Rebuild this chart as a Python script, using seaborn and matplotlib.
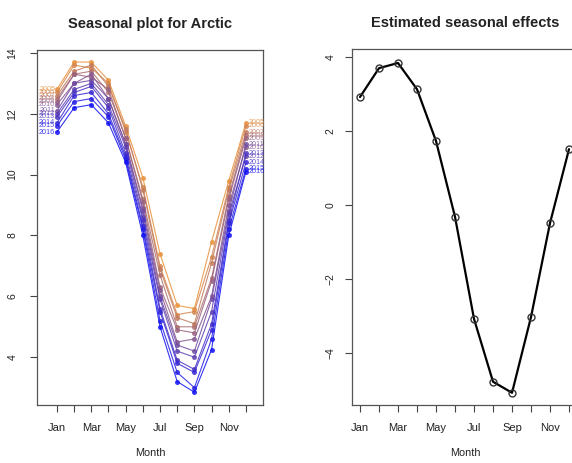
import numpy as np
import pandas as pd
import seaborn as sns
import matplotlib
matplotlib.use("Agg")
import matplotlib.pyplot as plt

months = ["Jan", "Feb", "Mar", "Apr", "May", "Jun",
          "Jul", "Aug", "Sep", "Oct", "Nov", "Dec"]
tick_labels = ["Jan", "", "Mar", "", "May", "", "Jul", "", "Sep", "", "Nov", ""]
years = [2005, 2006, 2007, 2008, 2009, 2010, 2011, 2012, 2013, 2014, 2015, 2016]

# one row per year (oldest first)
extent = [
    [12.8, 13.7, 13.7, 13.1, 11.6, 9.9, 7.4, 5.7, 5.6, 7.8, 9.8, 11.7],
    [12.7, 13.6, 13.5, 13.0, 11.4, 9.6, 7.0, 5.4, 5.5, 7.3, 9.6, 11.6],
    [12.6, 13.4, 13.6, 12.9, 11.5, 9.5, 6.9, 5.3, 5.1, 7.1, 9.5, 11.4],
    [12.5, 13.3, 13.4, 12.7, 11.2, 9.2, 6.7, 5.0, 5.0, 6.6, 9.3, 11.3],
    [12.4, 13.3, 13.2, 12.8, 11.2, 9.1, 6.3, 4.9, 4.8, 6.5, 9.2, 11.2],
    [12.3, 13.0, 13.3, 12.5, 11.0, 8.9, 6.2, 4.5, 4.6, 6.0, 9.0, 10.9],
    [12.1, 13.0, 13.1, 12.5, 11.0, 8.8, 6.0, 4.4, 4.2, 5.9, 8.8, 11.0],
    [12.0, 12.8, 13.0, 12.3, 10.9, 8.6, 5.9, 4.2, 4.0, 5.5, 8.7, 10.6],
    [11.9, 12.7, 12.9, 12.2, 10.7, 8.5, 5.6, 3.9, 3.6, 5.1, 8.5, 10.7],
    [11.7, 12.6, 12.7, 12.0, 10.6, 8.3, 5.5, 3.8, 3.5, 4.9, 8.4, 10.4],
    [11.6, 12.4, 12.5, 11.9, 10.5, 8.2, 5.2, 3.5, 3.0, 4.6, 8.2, 10.2],
    [11.4, 12.2, 12.3, 11.7, 10.4, 8.0, 5.0, 3.2, 2.85, 4.25, 8.0, 10.1],
]

# estimated seasonal effects
effects = [2.92, 3.70, 3.84, 3.13, 1.73, -0.32, -3.08, -4.78, -5.08, -3.03, -0.49, 1.51]

sns.set_style("ticks")
plt.rcParams["font.family"] = ["Liberation Sans", "DejaVu Sans"]

month_num = np.arange(1, 13)
long_df = pd.DataFrame(
    [(y, m, v) for y, row in zip(years, extent) for m, v in zip(month_num, row)],
    columns=["Year", "Month", "Extent"],
)
eff_df = pd.DataFrame({"Month": month_num, "Effect": effects})

palette = sns.blend_palette(["#E8913A", "#1010F5"], len(years))

fig = plt.figure(figsize=(5.72, 4.63), dpi=100)
ax1 = fig.add_axes([0.0647, 0.1253, 0.395, 0.767])
ax2 = fig.add_axes([0.6154, 0.1253, 0.395, 0.769])

sns.lineplot(data=long_df, x="Month", y="Extent", hue="Year", palette=palette,
             marker="o", markersize=3.6, markeredgewidth=0, linewidth=0.8,
             alpha=0.85, legend=False, ax=ax1)

# year labels at both ends of the seasonal plot (they pile up, as in the original)
for y, row, c in zip(years, extent, palette):
    ax1.text(0.9, row[0], str(y), color=c, fontsize=5.2, ha="right", va="center",
             alpha=0.8)
    ax1.text(12.15, row[-1], str(y), color=c, fontsize=5.2, ha="left", va="center",
             alpha=0.8)

sns.lineplot(data=eff_df, x="Month", y="Effect", color="black", linewidth=1.6,
             marker="o", markersize=5, markerfacecolor="none",
             markeredgecolor="#333333", markeredgewidth=1.0, ax=ax2)

ax1.set_xlim(-0.16, 12.99)
ax1.set_ylim(2.43, 14.1)
ax1.set_yticks([4, 6, 8, 10, 12, 14])
ax2.set_xlim(0.58, 12.47)
ax2.set_ylim(-5.41, 4.22)
ax2.set_yticks([-4, -2, 0, 2, 4])

for ax, title, ypad in [(ax1, "Seasonal plot for Arctic", 9),
                        (ax2, "Estimated seasonal effects", 7)]:
    ax.set_xticks(month_num)
    ax.set_xticklabels(tick_labels)
    ax.set_xlabel("Month", fontsize=7.8, labelpad=11, color="#222222")
    ax.set_ylabel("")
    ax.set_title(title, fontsize=10.5, fontweight="bold", pad=16, color="#222222")
    ax.tick_params(axis="x", length=5, width=0.8, pad=8, labelsize=8,
                   colors="#444444", labelcolor="#222222")
    ax.tick_params(axis="y", length=5, width=0.8, pad=ypad, labelsize=7.5,
                   colors="#444444", labelcolor="#222222")
    for lab in ax.get_yticklabels():
        lab.set_rotation(90)
        lab.set_va("center")
    for s in ax.spines.values():
        s.set_visible(True)
        s.set_color("#555555")
        s.set_linewidth(0.9)

fig.savefig("out.png", dpi=100)
